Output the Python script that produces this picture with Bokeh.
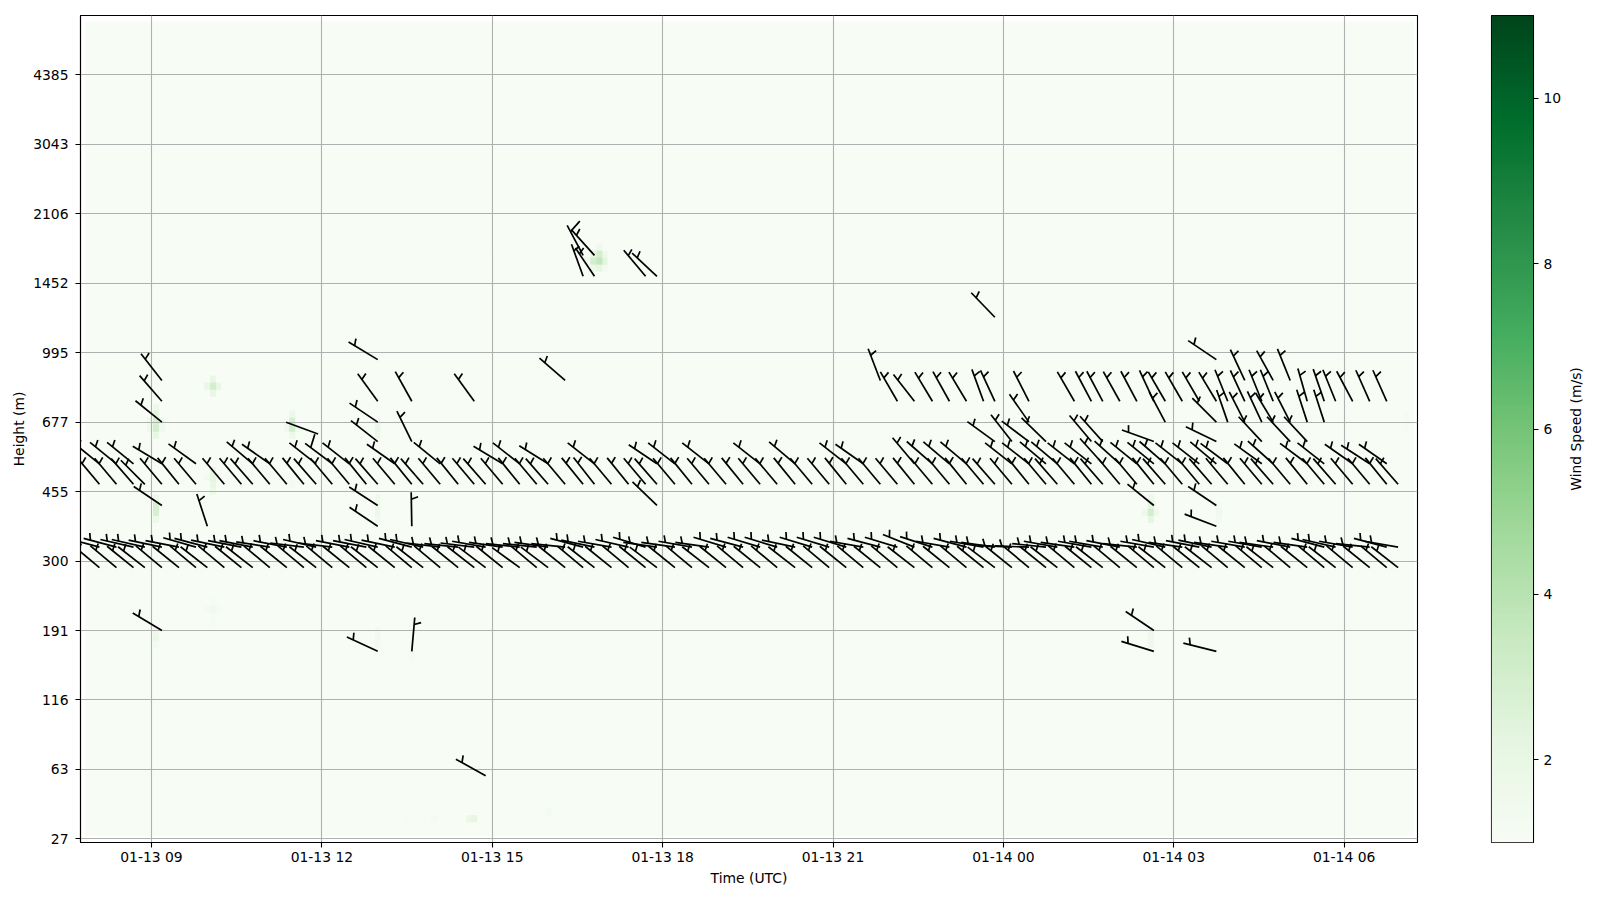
import math
from datetime import datetime, timezone
import numpy as np
from bokeh.embed import file_html
from bokeh.layouts import row
from bokeh.models import DatetimeTickFormatter, FixedTicker, LinearColorMapper, Range1d
from bokeh.palettes import Greens256
from bokeh.plotting import figure
from bokeh.resources import INLINE

# ---- tick labels -----------------------------------------------------------
HEIGHT_LABELS = ["27", "63", "116", "191", "300", "455", "677", "995", "1452", "2106", "3043", "4385"]
HEIGHT_ROWS = [0, 10, 20, 30, 40, 50, 60, 70, 80, 90, 100, 110]
TIME_TICK_HOURS = [0, 3, 6, 9, 12, 15, 18, 21, 24, 27, 30]
CBAR_TICKS = [2, 4, 6, 8, 10]

# ---- barb times: minutes after 01-13 09:00 ---------------------------------
COL_MIN = [-55, -37, -19, -7, 11, 29, 47, 59, 77, 95, 107, 125, 143, 161, 174, 191, 209, 227, 239, 257, 275,
           287, 305, 324, 341, 353, 371, 389, 407, 419, 437, 456, 468, 486, 504, 522, 534, 553, 571, 589, 607,
           625, 643, 661, 680, 698, 716, 734, 752, 770, 788, 806, 825, 843, 861, 879, 891, 909, 927, 945, 957,
           975, 993, 1005, 1023, 1041, 1059, 1071, 1089, 1107, 1120, 1137, 1155, 1173, 1185, 1203, 1221, 1239,
           1251, 1269, 1287, 1305, 1317]

# ---- full rows: shaft bearing (deg) for each time, None = no barb ----------
ROW39_DIR = [310, 310, 309, 308, 310, 309, 310, 308, 310, 309, 308, 310, 309, 310, 308, 310, 309, 310, 308, 309, 310,
             308, 310, 309, 308, 307, 309, 306, 310, 307, 309, 310, 308, 309, 310, 309, 307, 309, 310, 308, 309,
             310, 309, 310, 308, 309, 310, 309, 310, 309, 310, 308, 310, 309, 310, 309, 307, 309, 310, 309, 308,
             310, 309, 308, 310, 309, 310, 308, 310, 309, 308, 310, 309, 310, 308, 310, 309, 310, 308, 310, 309, 310, 308]
ROW42_DIR = [285, 285, 283, 283, 282, 281, 286, 285, 282, 281, 281, 279, 281, 277, 283, 277, 281, 281, 283, 282, 285,
             283, 277, 276, 277, 280, 278, 276, 276, 278, 276, 285, 282, 280, 283, 287, 278, 278, 280, 278, 287,
             285, 287, 287, 282, 287, 287, 287, 280, 285, 287, 292, 288, 280, 285, 280, 278, 273, 272, 276, 280,
             278, 280, 280, 281, 276, 280, 283, 278, 281, 282, 278, 280, 280, 278, 281, 278, 285, 283, 280, 276, 285, 280]
ROW51_DIR = [320, 320, 319, 315, 320, 321, 320, None, 320, 320, 319, 320, 320, 321, 319, 320, 320, 321, 319, 320, 321,
             319, 320, 321, 320, 319, 320, 321, 320, 319, 320, 321, 322, 320, 321, 320, 319, 320, 321, 320, 320,
             321, 320, 320, 321, 320, 320, 321, 320, 320, 320, 321, 320, 320, 321, 320, 319, 320, 321, 320, 319,
             320, 321, 319, 320, 320, 321, 319, 320, 320, 319, 320, 321, 320, 319, 320, 321, 320, 319, 320, 320, 321, 319]

# ---- scattered barbs: time (min after 09:00), height row, bearing, full feather ----
SP_MIN = [
    # row 54
    -55, -37, -19, 11, 47, 107, 125, 174, 191, 209, 257, 305, 371, 389, 419, 468, 534, 553, 589, 643, 680, 734, 752,
    806, 825, 843, 861, 909, 927, 945, 957, 975, 993, 1005, 1023, 1041, 1059, 1071, 1089, 1107, 1125, 1137, 1173,
    1185, 1221, 1239, 1269, 1287, 1305,
    # row 57
    239, 275, 891, 909, 927, 945, 993, 1005, 1059, 1125, 1173, 1203, 1221,
    # row 58
    176,
    # row 60
    11, 239, 927, 1071, 1125, 1137, 1155, 1173, 1185, 1203, 1221, 1239,
    # row 63
    11, 239, 275, 341, 788, 806, 825, 843, 861, 879, 891, 927, 975, 993, 1005, 1023, 1041, 1059, 1071, 1089, 1107,
    1125, 1137, 1155, 1173, 1185, 1221, 1239, 1251, 1269, 1287, 1305,
    # row 66
    11, 437, 770, 1155, 1185, 1203,
    # row 69, 75, 81, 84
    239, 1125, 891, 456, 468, 522, 534, 456, 468,
    # row 48
    11, 239, 534, 1059, 1125,
    # row 45
    59, 239, 275, 1125,
    # rows 30, 27, 9
    11, 1059, 239, 275, 1059, 1125, 353,
]
SP_ROW = [54.0] * 49 + [57.2] * 13 + [58.3] + [60.0] * 12 + [63.0] * 32 + [66.0] * 6 + [69.0] * 2 + [75.1] + \
         [81.0] * 4 + [84.0] * 2 + [48.0] * 5 + [45.0] * 4 + [30.0] * 2 + [27.0] * 4 + [9.1]
SP_DIR = [
    309, 309, 309, 301, 306, 310, 305, 308, 307, 308, 305, 309, 301, 308, 302, 308, 304, 308, 308, 308, 310, 308, 305,
    320, 311, 310, 310, 308, 308, 310, 310, 308, 308, 318, 312, 309, 309, 311, 308, 308, 310, 307, 306,
    312, 307, 308, 305, 303, 305,
    308, 334, 306, 322, 307, 314, 320, 318, 290, 296, 317, 317, 317,
    290,
    309, 304, 325, 332, 315, 341, 333, 335, 329, 333, 342, 342,
    319, 324, 331, 324, 330, 322, 329, 331, 329, 340, 335, 333, 330, 332, 332, 331, 332, 335, 330, 330, 330,
    329, 338, 335, 338, 338, 344, 341, 338, 332, 336, 336,
    322, 311, 339, 335, 331, 338,
    301, 304, 316, 340, 326, 320, 313, 332, 318,
    304, 303, 314, 309, 304,
    342, 304, 359, 291,
    301, 304, 295, 5, 287, 284, 299,
]
SP_FULL_INDEX = [8, 120]  # entries of the lists above with a full feather
SP_BARE_INDEX = [62]      # entries with a bare staff

# ---- wind speed cells that stand out from the 1 m/s background ----------------
HEAT_COL = [22, 21, 23, 22, 22, 12, 12, 12, 12, 12, 11, 13, 11, 13, 36, 36, 36, 36, 35, 37, 12, 12, 12, 12, 22, 22, 22,
            22, 21, 23, 36, 51, 51, 51, 51, 51, 51, 51, 12, 12, 12, 22, 22, 22, 22, 21, 23, 51, 51, 51, 57, 57,
            56, 61, 67, 68, 81, 90, 90, 90, 90, 89, 89, 89, 88, 91, 91, 91, 187, 187, 187, 187, 186, 188, 199, 199, 199,
            200, 200, 206, 232, 232, 232, 193, 209, 187, 187, 187]
HEAT_ROW = [64, 64, 64, 65, 63, 61, 60, 59, 58, 57, 59, 59, 58, 58, 60, 59, 58, 57, 58, 58, 48, 47, 46, 45, 52, 51, 50,
            49, 51, 51, 50, 59, 58, 57, 48, 47, 46, 45, 29, 28, 27, 33, 32, 31, 30, 32, 32, 29, 28, 27, 26, 25,
            2, 2, 2, 2, 3, 84, 83, 82, 81, 83, 82, 81, 82, 83, 82, 81, 48, 47, 46, 45, 46, 46, 47, 46, 45,
            60, 59, 61, 60, 59, 58, 62, 65, 29, 28, 27]
HEAT_VAL = [3.0, 2.0, 2.0, 2.0, 2.0, 1.7, 2.4, 2.8, 3.0, 2.0, 1.5, 1.5, 1.5, 1.5, 1.7, 2.8, 3.0, 1.8, 1.5, 1.5, 1.7, 2.8, 2.8, 1.8, 2.0, 2.2, 2.0,
            1.6, 1.3, 1.3, 1.3, 1.6, 2.0, 1.8, 1.6, 1.8, 1.8, 1.5, 1.5, 1.8, 1.3, 1.25, 1.5, 1.25, 1.15, 1.15, 1.15, 1.3, 1.5, 1.3, 1.25, 1.25,
            1.1, 1.15, 1.8, 2.1, 1.3, 1.5, 3.0, 3.6, 2.1, 2.1, 3.0, 1.8, 1.5, 1.6, 2.3, 1.3, 1.8, 2.4, 3.0, 2.1, 1.6, 1.6, 1.3, 1.5, 1.3,
            1.3, 1.3, 1.3, 1.2, 1.2, 1.2, 1.15, 1.3, 1.5, 1.6, 1.5]

# ---- scales -----------------------------------------------------------------
VMIN, VMAX = 1, 11
N_COLS, N_ROWS = 234, 117
FRAME_W, FRAME_H = 1337, 827
X_START_MIN, X_END_MIN = -75.0, 1337.5
Y_START, Y_END = -0.52, 118.54
PX_PER_MIN = FRAME_W / (X_END_MIN - X_START_MIN)
PX_PER_ROW = FRAME_H / (Y_END - Y_START)
BASE_MS = datetime(2024, 1, 13, 9, tzinfo=timezone.utc).timestamp() * 1000
MS_PER_MIN = 60000.0
STAFF_PX, FEATHER_AT_PX, HALF_PX, FULL_PX, FEATHER_REL_DEG = 34.0, 7.0, 7.2, 14.0, 70.0
FONT = "DejaVu Sans"
FS = "13.9px"


def to_ms(minutes):
    return BASE_MS + minutes * MS_PER_MIN


barb_min, barb_row, barb_dir, barb_feather = [], [], [], []
for r, dirs in ((39.05, ROW39_DIR), (42.0, ROW42_DIR), (51.05, ROW51_DIR)):
    for m, d in zip(COL_MIN, dirs):
        if d is not None:
            barb_min.append(m); barb_row.append(r); barb_dir.append(d); barb_feather.append(HALF_PX)
for i, (m, r, d) in enumerate(zip(SP_MIN, SP_ROW, SP_DIR)):
    barb_min.append(m); barb_row.append(r); barb_dir.append(d)
    barb_feather.append(FULL_PX if i in SP_FULL_INDEX else 0.0 if i in SP_BARE_INDEX else HALF_PX)

xs, ys = [], []
for m, r, d, flen in zip(barb_min, barb_row, barb_dir, barb_feather):
    a = math.radians(d)
    ex, ey = STAFF_PX * math.sin(a), STAFF_PX * math.cos(a)
    fx = (STAFF_PX - FEATHER_AT_PX) * math.sin(a)
    fy = (STAFF_PX - FEATHER_AT_PX) * math.cos(a)
    b = math.radians(d + FEATHER_REL_DEG)
    gx, gy = fx + flen * math.sin(b), fy + flen * math.cos(b)
    t = lambda px: to_ms(m + px / PX_PER_MIN)
    h = lambda py: r + py / PX_PER_ROW
    xs.append([t(0), t(ex)]); ys.append([h(0), h(ey)])
    if flen > 0:
        xs.append([t(fx), t(gx)]); ys.append([h(fy), h(gy)])

# ---- main chart ---------------------------------------------------------------
Z = np.full((N_ROWS, N_COLS), float(VMIN))
for c, r, v in zip(HEAT_COL, HEAT_ROW, HEAT_VAL):
    Z[r, c] = v

mapper = LinearColorMapper(palette=list(reversed(Greens256)), low=VMIN, high=VMAX)
p = figure(x_axis_type="datetime", width=1447, height=892, frame_width=FRAME_W, frame_height=FRAME_H,
           output_backend="svg", toolbar_location=None,
           x_range=Range1d(to_ms(X_START_MIN), to_ms(X_END_MIN)), y_range=Range1d(Y_START, Y_END),
           min_border_left=80, min_border_right=30, min_border_top=15, min_border_bottom=50,
           x_axis_label="Time (UTC)", y_axis_label="Height (m)")
p.background_fill_color = "white"
p.border_fill_color = "white"
p.outline_line_color = "black"
p.outline_line_width = 1.1

img = p.image(image=[Z], x=to_ms(-70.3), y=0.39, dw=N_COLS * 6 * MS_PER_MIN, dh=117.3, color_mapper=mapper)
img.level = "image"
p.multi_line(xs=xs, ys=ys, line_color="black", line_width=1.7)

x_ticker = FixedTicker(ticks=[to_ms(h * 60) for h in TIME_TICK_HOURS])
p.xaxis.ticker = x_ticker
p.xgrid.ticker = x_ticker
fmt = "%m-%d %H"
p.xaxis.formatter = DatetimeTickFormatter(hours=fmt, hourmin=fmt, days=fmt, minutes=fmt, minsec=fmt, seconds=fmt,
                                          months=fmt, years=fmt, context=None)
y_ticker = FixedTicker(ticks=HEIGHT_ROWS)
p.yaxis.ticker = y_ticker
p.ygrid.ticker = y_ticker
p.yaxis.major_label_overrides = dict(zip(HEIGHT_ROWS, HEIGHT_LABELS))
for g in (p.xgrid, p.ygrid):
    g.grid_line_color = "#b0b0b0"
    g.grid_line_width = 1.1
for ax in (p.xaxis, p.yaxis):
    ax.axis_line_color = "black"
    ax.axis_line_width = 1.1
    ax.major_tick_in = 0
    ax.major_tick_out = 5
    ax.major_tick_line_color = "black"
    ax.major_tick_line_width = 1.1
    ax.minor_tick_line_color = None
    ax.major_label_text_font = FONT
    ax.major_label_text_font_size = FS
    ax.major_label_text_color = "black"
    ax.axis_label_text_font = FONT
    ax.axis_label_text_font_size = FS
    ax.axis_label_text_font_style = "normal"
    ax.axis_label_text_color = "black"
p.xaxis.major_label_standoff = 1
p.xaxis.axis_label_standoff = 2
p.yaxis.major_label_standoff = 7
p.yaxis.axis_label_standoff = 3

# ---- colour bar ----------------------------------------------------------------
gradient = np.linspace(VMIN, VMAX, 256).reshape(256, 1)
cb = figure(width=115, height=892, frame_width=42, frame_height=FRAME_H, output_backend="svg", toolbar_location=None,
            x_range=Range1d(0, 1), y_range=Range1d(VMIN, VMAX), x_axis_location=None, y_axis_location="right",
            min_border_left=44, min_border_right=29, min_border_top=15, min_border_bottom=50)
cb.grid.visible = False
cb.outline_line_color = "black"
cb.outline_line_width = 1.1
cb.border_fill_color = "white"
ci = cb.image(image=[gradient], x=0, y=VMIN, dw=1, dh=VMAX - VMIN, color_mapper=mapper)
ci.level = "image"
cy = cb.yaxis[0]
cy.ticker = FixedTicker(ticks=CBAR_TICKS)
cy.axis_line_color = "black"
cy.major_tick_in = 0
cy.major_tick_out = 5
cy.major_tick_line_width = 1.1
cy.minor_tick_line_color = None
cy.major_label_text_font = FONT
cy.major_label_text_font_size = FS
cy.major_label_text_color = "black"
cy.major_label_standoff = 5

# a narrow strip whose left axis carries the colour bar's title, reading upward
title_strip = figure(width=30, height=892, frame_width=2, frame_height=FRAME_H, output_backend="svg",
                     toolbar_location=None, x_range=Range1d(0, 1), y_range=Range1d(VMIN, VMAX), x_axis_location=None,
                     min_border_left=0, min_border_right=0, min_border_top=15, min_border_bottom=50,
                     y_axis_label="Wind Speed (m/s)")
title_strip.grid.visible = False
title_strip.outline_line_color = None
title_strip.border_fill_color = "white"
ty = title_strip.yaxis[0]
ty.ticker = FixedTicker(ticks=[])
ty.axis_line_color = None
ty.major_tick_line_color = None
ty.minor_tick_line_color = None
ty.major_tick_in = 0
ty.major_tick_out = 0
ty.minor_tick_in = 0
ty.minor_tick_out = 0
ty.major_label_text_font_size = "0px"
ty.major_label_standoff = 0
ty.axis_label_standoff = 0
ty.axis_label_text_font = FONT
ty.axis_label_text_font_size = FS
ty.axis_label_text_font_style = "normal"
ty.axis_label_text_color = "black"

layout = row(p, cb, title_strip)
open("out.html", "w").write(file_html(layout, INLINE))
